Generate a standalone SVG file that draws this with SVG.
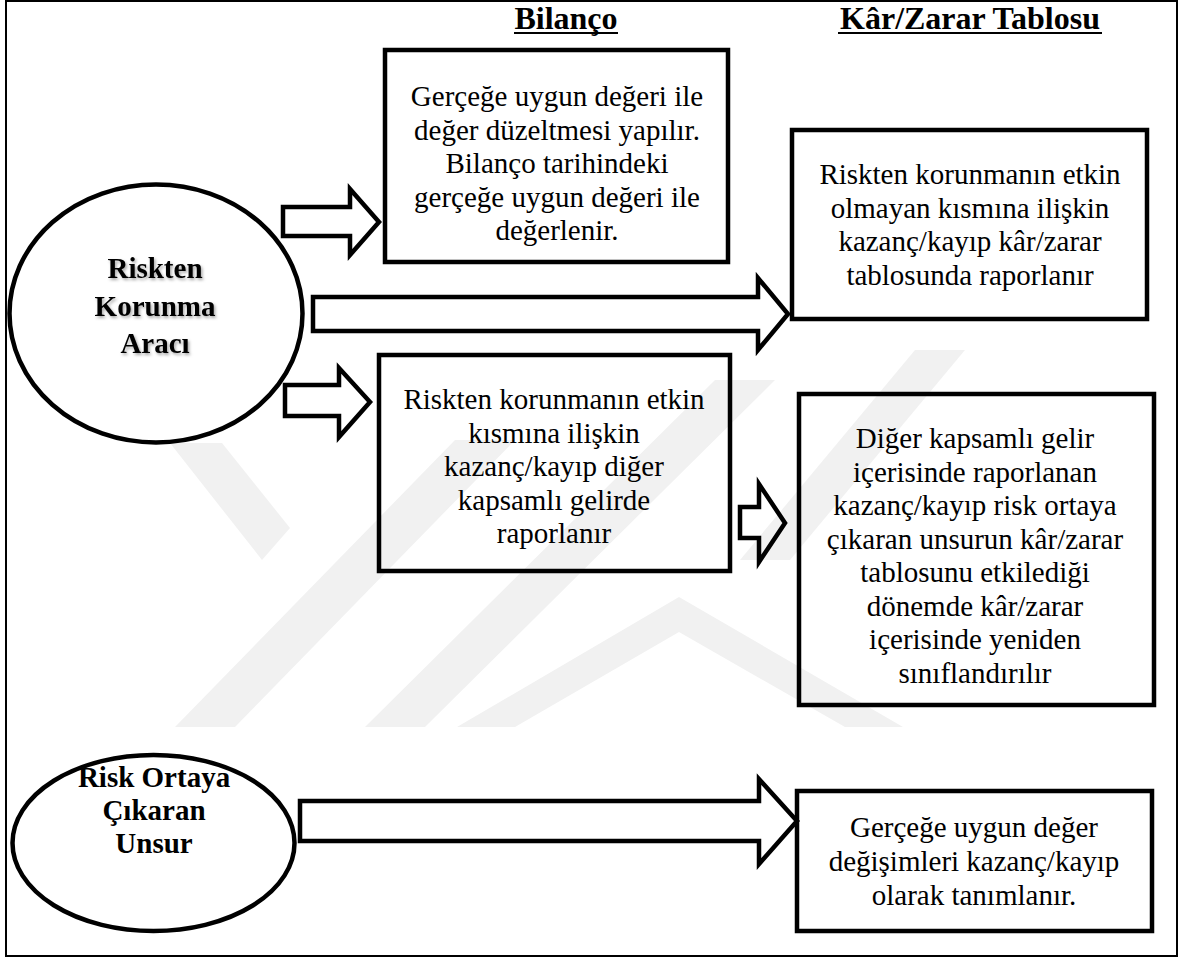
<svg xmlns="http://www.w3.org/2000/svg" width="1186" height="958" viewBox="0 0 1186 958">
  <defs>
    <style>
      .frame { fill: #ffffff; stroke: #000000; stroke-width: 2; }
      .box { fill: none; stroke: #000000; stroke-width: 4.5; stroke-linejoin: miter; }
      .oval { fill: none; stroke: #000000; stroke-width: 4.5; }
      .arrow { fill: none; stroke: #000000; stroke-width: 4.5; stroke-linejoin: miter; stroke-miterlimit: 10; }
      .head { font-family: "Liberation Serif", "Times New Roman", serif; font-weight: bold; font-size: 32px; fill: #000; text-anchor: middle; }
      .body { font-family: "Liberation Serif", "Times New Roman", serif; font-size: 29px; fill: #000; text-anchor: middle; }
      .label { font-family: "Liberation Serif", "Times New Roman", serif; font-weight: bold; font-size: 29px; fill: #000; text-anchor: middle; }
      .wm { fill: #f1f1f1; }
    </style>
    <filter id="soft-shadow" x="-10%" y="-10%" width="130%" height="140%">
      <feDropShadow dx="1.5" dy="2" stdDeviation="1.5" flood-color="#000000" flood-opacity="0.35"/>
    </filter>
  </defs>

  <!-- page frame -->
  <rect class="frame" x="6" y="1" width="1171" height="955"/>

  <!-- faint background emblem -->
  <g id="watermark">
    <polygon class="wm" points="170,443 222,443 290,528 262,560"/>
    <polygon class="wm" points="175,727 235,727 515,440 455,440"/>
    <polygon class="wm" points="365,727 425,727 775,380 715,380"/>
    <polygon class="wm" points="740,560 790,560 965,350 915,350"/>
    <polygon class="wm" points="679,597 903,727 845,727 679,632 515,727 457,727"/>
  </g>

  <!-- column headings -->
  <g id="headings">
    <text class="head" x="566" y="29">Bilanço</text>
    <rect x="514" y="32" width="104" height="2" fill="#000"/>
    <text class="head" x="970" y="29">Kâr/Zarar Tablosu</text>
    <rect x="838" y="32" width="264" height="2" fill="#000"/>
  </g>

  <!-- block arrows -->
  <g id="connectors">
    <polygon class="arrow" points="283,207 350,207 350,189 379,222 350,255 350,236 283,236"/>
    <polygon class="arrow" points="313,297 758,297 758,278 788,314 758,350 758,331 313,331"/>
    <polygon class="arrow" points="285,385 339,385 339,368 370,402 339,437 339,416 285,416"/>
    <polygon class="arrow" points="740,507 759,507 759,484 785,523 759,562 759,538 740,538"/>
    <polygon class="arrow" points="300,801 759,801 759,779 797,821 759,864 759,841 300,841"/>
  </g>

  <g id="hedging-instrument">
    <ellipse class="oval" cx="156" cy="313.5" rx="146.5" ry="129"/>
    <g filter="url(#soft-shadow)">
      <text class="label" x="155" y="278">Riskten</text>
      <text class="label" x="155" y="315.5">Korunma</text>
      <text class="label" x="155" y="353">Aracı</text>
    </g>
  </g>

  <g id="hedged-item">
    <ellipse class="oval" cx="153.5" cy="843" rx="141" ry="88"/>
    <text class="label" x="154" y="787">Risk Ortaya</text>
    <text class="label" x="154" y="820">Çıkaran</text>
    <text class="label" x="154" y="853">Unsur</text>
  </g>

  <g id="balance-fair-value">
    <rect class="box" x="385" y="50" width="343" height="212"/>
    <text class="body" x="557" y="106">Gerçeğe uygun değeri ile</text>
    <text class="body" x="557" y="139.5">değer düzeltmesi yapılır.</text>
    <text class="body" x="557" y="173">Bilanço tarihindeki</text>
    <text class="body" x="557" y="206.5">gerçeğe uygun değeri ile</text>
    <text class="body" x="557" y="240">değerlenir.</text>
  </g>

  <g id="pl-ineffective">
    <rect class="box" x="792" y="130" width="355" height="189"/>
    <text class="body" x="970" y="184">Riskten korunmanın etkin</text>
    <text class="body" x="970" y="217.5">olmayan kısmına ilişkin</text>
    <text class="body" x="970" y="251">kazanç/kayıp kâr/zarar</text>
    <text class="body" x="970" y="284.5">tablosunda raporlanır</text>
  </g>

  <g id="balance-oci">
    <rect class="box" x="379" y="355" width="351" height="216"/>
    <text class="body" x="554" y="409">Riskten korunmanın etkin</text>
    <text class="body" x="554" y="442.5">kısmına ilişkin</text>
    <text class="body" x="554" y="476">kazanç/kayıp diğer</text>
    <text class="body" x="554" y="509.5">kapsamlı gelirde</text>
    <text class="body" x="554" y="543">raporlanır</text>
  </g>

  <g id="pl-reclassified">
    <rect class="box" x="799" y="394" width="355" height="311"/>
    <text class="body" x="975" y="448">Diğer kapsamlı gelir</text>
    <text class="body" x="975" y="481.5">içerisinde raporlanan</text>
    <text class="body" x="975" y="515">kazanç/kayıp risk ortaya</text>
    <text class="body" x="975" y="548.5">çıkaran unsurun kâr/zarar</text>
    <text class="body" x="975" y="582">tablosunu etkilediği</text>
    <text class="body" x="975" y="615.5">dönemde kâr/zarar</text>
    <text class="body" x="975" y="649">içerisinde yeniden</text>
    <text class="body" x="975" y="682.5">sınıflandırılır</text>
  </g>

  <g id="pl-hedged-item">
    <rect class="box" x="797" y="791" width="355" height="140"/>
    <text class="body" x="974" y="837">Gerçeğe uygun değer</text>
    <text class="body" x="974" y="871">değişimleri kazanç/kayıp</text>
    <text class="body" x="974" y="905">olarak tanımlanır.</text>
  </g>
</svg>
